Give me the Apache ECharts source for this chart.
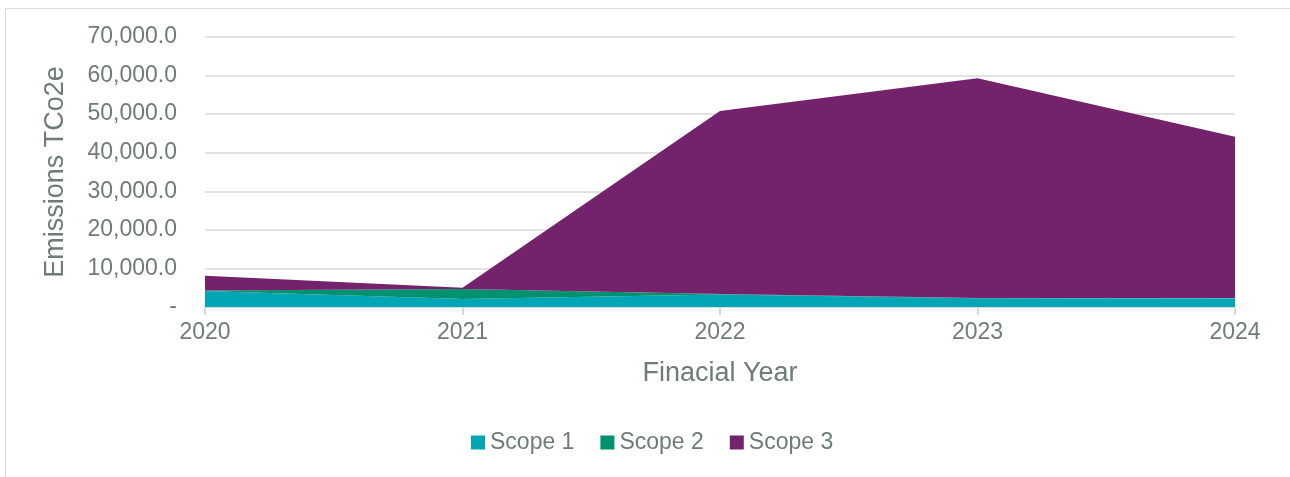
<!DOCTYPE html>
<html>
<head>
<meta charset="utf-8">
<script src="https://cdn.jsdelivr.net/npm/echarts@6/dist/echarts.min.js"></script>
<style>
  html, body { margin: 0; padding: 0; background: #fff; }
  #chart { width: 1290px; height: 477px; }
</style>
</head>
<body>
<div id="chart"></div>
<script>
  // financial years
  const years = ['2020', '2021', '2022', '2023', '2024'];
  // emissions per scope (TCo2e)
  const scope1 = [4150, 2070, 3250, 2250, 2250];
  const scope2 = [150, 2600, 150, 100, 80];
  const scope3 = [3800, 330, 47400, 56980, 41790];

  const textColor = '#6F7A7A';
  const lineColor = '#D9D9D9';
  const font = '"Liberation Sans", Arial, sans-serif';

  function makeSeries(name, data, color) {
      return {
          name: name,
          type: 'line',
          stack: 'total',
          data: data,
          symbol: 'none',
          lineStyle: { width: 0 },
          areaStyle: { color: color, opacity: 1 },
          itemStyle: { color: color }
      };
  }

  const chart = echarts.init(document.getElementById('chart'));
  chart.setOption({
      backgroundColor: '#fff',
      animation: false,
      textStyle: { fontFamily: font },
      graphic: [{
          type: 'rect',
          z: -10,
          shape: { x: 5.5, y: 8.5, width: 1400, height: 600 },
          style: { fill: 'none', stroke: lineColor, lineWidth: 1 }
      }],
      grid: { left: 205, right: 55, top: 37, bottom: 170 },
      legend: {
          top: 426,
          left: 466,
          itemWidth: 14,
          itemHeight: 14,
          itemGap: 26,
          icon: 'rect',
          textStyle: { color: textColor, fontSize: 23, fontFamily: font },
          data: ['Scope 1', 'Scope 2', 'Scope 3']
      },
      xAxis: {
          type: 'category',
          data: years,
          boundaryGap: false,
          name: 'Finacial Year',
          nameLocation: 'middle',
          nameGap: 53,
          nameTextStyle: { color: textColor, fontSize: 27, fontFamily: font },
          axisLine: { lineStyle: { color: lineColor, width: 2 } },
          axisTick: { show: true, length: 8, lineStyle: { color: lineColor, width: 2 } },
          axisLabel: { color: textColor, fontSize: 23, margin: 14, fontFamily: font },
          splitLine: { show: false }
      },
      yAxis: {
          type: 'value',
          min: 0,
          max: 70000,
          interval: 10000,
          name: 'Emissions TCo2e',
          nameLocation: 'middle',
          nameGap: 136,
          nameTextStyle: { color: textColor, fontSize: 27, fontFamily: font },
          axisLine: { show: false },
          axisTick: { show: false },
          axisLabel: {
              color: textColor,
              fontSize: 23,
              margin: 28,
              fontFamily: font,
              formatter(value) {
                  if (value === 0) return '-';
                  return value.toLocaleString('en-US', { minimumFractionDigits: 1, maximumFractionDigits: 1 });
              }
          },
          splitLine: { lineStyle: { color: lineColor, width: 1.5 } }
      },
      series: [
          makeSeries('Scope 1', scope1, '#00A6B6'),
          makeSeries('Scope 2', scope2, '#00916E'),
          makeSeries('Scope 3', scope3, '#74226C')
      ]
  });
</script>
</body>
</html>
